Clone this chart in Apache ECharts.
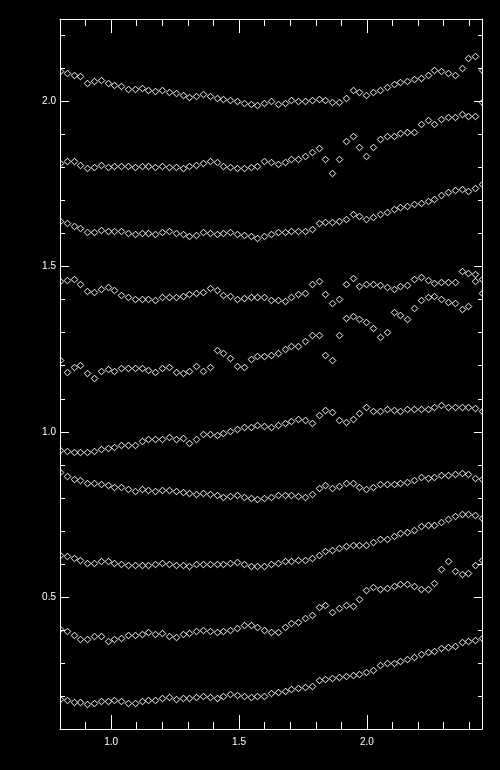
<!DOCTYPE html>
<html>
<head>
<meta charset="utf-8">
<script src="https://cdn.jsdelivr.net/npm/echarts@6/dist/echarts.min.js"></script>
<style>
html,body{margin:0;padding:0;background:#000;}
#chart{width:500px;height:770px;}
</style>
</head>
<body>
<div id="chart"></div>
<script>
// x positions of the samples
const xValues = [0.800,0.827,0.853,0.880,0.906,0.933,0.960,0.986,1.013,1.040,
1.066,1.093,1.119,1.146,1.173,1.199,1.226,1.252,1.279,1.306,
1.332,1.359,1.385,1.412,1.439,1.465,1.492,1.519,1.545,1.572,
1.598,1.625,1.652,1.678,1.705,1.731,1.758,1.785,1.811,1.838,
1.865,1.891,1.918,1.944,1.971,1.998,2.024,2.051,2.077,2.104,
2.131,2.157,2.184,2.210,2.237,2.264,2.290,2.317,2.344,2.370,
2.397,2.423,2.450];

const xTickLabels = [1.0, 1.5, 2.0];
const yTickLabels = [0.5, 1.0, 1.5, 2.0];

const seriesA = [2.093,2.086,2.080,2.076,2.057,2.061,2.064,2.055,2.050,2.047,
2.039,2.037,2.040,2.036,2.033,2.036,2.029,2.025,2.021,2.015,
2.017,2.022,2.018,2.012,2.009,2.004,2.001,1.996,1.992,1.989,
1.997,2.001,1.994,1.996,2.006,2.003,2.002,2.004,2.007,2.005,
1.999,2.000,2.012,2.034,2.030,2.020,2.028,2.034,2.045,2.053,
2.060,2.062,2.067,2.070,2.080,2.097,2.094,2.085,2.080,2.103,
2.132,2.138,2.095];

const seriesB = [1.813,1.819,1.820,1.807,1.798,1.803,1.808,1.802,1.805,1.805,
1.804,1.802,1.805,1.805,1.802,1.805,1.803,1.801,1.800,1.804,
1.807,1.814,1.819,1.817,1.805,1.801,1.800,1.800,1.802,1.804,
1.819,1.817,1.812,1.818,1.826,1.825,1.836,1.848,1.858,1.826,
1.785,1.825,1.881,1.895,1.861,1.835,1.861,1.888,1.897,1.897,
1.906,1.909,1.908,1.931,1.944,1.932,1.946,1.953,1.952,1.961,
1.956,1.956,1.999];

const seriesC = [1.637,1.631,1.622,1.616,1.604,1.604,1.610,1.607,1.607,1.607,
1.601,1.598,1.602,1.601,1.598,1.604,1.607,1.601,1.598,1.592,
1.597,1.604,1.602,1.598,1.601,1.604,1.600,1.596,1.592,1.586,
1.592,1.599,1.606,1.606,1.608,1.608,1.607,1.615,1.633,1.634,
1.635,1.637,1.643,1.660,1.652,1.643,1.650,1.660,1.667,1.674,
1.681,1.683,1.689,1.692,1.699,1.705,1.717,1.726,1.731,1.734,
1.730,1.737,1.750];

const seriesD = [1.458,1.461,1.462,1.448,1.427,1.423,1.432,1.438,1.428,1.414,
1.408,1.401,1.402,1.402,1.398,1.408,1.408,1.409,1.410,1.416,
1.421,1.422,1.435,1.428,1.415,1.412,1.403,1.406,1.407,1.409,
1.409,1.398,1.398,1.395,1.408,1.416,1.421,1.447,1.457,1.417,
1.389,1.402,1.447,1.466,1.442,1.447,1.447,1.444,1.438,1.431,
1.441,1.445,1.463,1.468,1.460,1.450,1.453,1.453,1.453,1.487,
1.481,1.477,1.462];

const seriesE = [1.217,1.181,1.196,1.203,1.178,1.164,1.184,1.191,1.184,1.194,
1.194,1.194,1.194,1.188,1.182,1.192,1.197,1.182,1.178,1.184,
1.199,1.185,1.197,1.247,1.240,1.223,1.200,1.197,1.221,1.231,
1.231,1.234,1.239,1.250,1.261,1.259,1.274,1.293,1.293,1.233,
1.216,1.293,1.345,1.352,1.342,1.332,1.314,1.286,1.301,1.363,
1.355,1.341,1.375,1.399,1.408,1.411,1.403,1.392,1.389,1.371,
1.381,1.458,1.420];

const seriesF = [0.946,0.943,0.939,0.939,0.939,0.943,0.949,0.951,0.955,0.961,
0.961,0.959,0.971,0.977,0.977,0.977,0.983,0.979,0.982,0.966,
0.977,0.994,0.992,0.991,0.997,1.002,1.008,1.013,1.014,1.021,
1.018,1.016,1.021,1.026,1.032,1.039,1.035,1.028,1.051,1.067,
1.060,1.036,1.029,1.038,1.057,1.075,1.064,1.063,1.070,1.067,
1.063,1.070,1.068,1.070,1.070,1.076,1.082,1.076,1.075,1.075,
1.074,1.073,1.063];

const seriesG = [0.878,0.866,0.856,0.855,0.845,0.845,0.841,0.838,0.833,0.833,
0.828,0.821,0.826,0.825,0.821,0.825,0.825,0.820,0.818,0.815,
0.811,0.815,0.813,0.808,0.803,0.805,0.808,0.803,0.800,0.797,
0.800,0.804,0.808,0.808,0.810,0.806,0.804,0.811,0.831,0.839,
0.830,0.835,0.844,0.844,0.833,0.827,0.834,0.841,0.842,0.842,
0.846,0.848,0.853,0.864,0.861,0.863,0.870,0.869,0.871,0.876,
0.873,0.860,0.858];

const seriesH = [0.626,0.623,0.618,0.611,0.603,0.603,0.608,0.608,0.603,0.599,
0.596,0.596,0.596,0.596,0.599,0.603,0.599,0.596,0.596,0.593,
0.599,0.601,0.599,0.599,0.599,0.603,0.606,0.599,0.594,0.593,
0.594,0.600,0.603,0.608,0.610,0.611,0.612,0.618,0.628,0.640,
0.643,0.647,0.653,0.658,0.658,0.658,0.667,0.676,0.676,0.685,
0.694,0.697,0.704,0.714,0.717,0.719,0.727,0.737,0.745,0.752,
0.752,0.747,0.739];

const seriesI = [0.402,0.397,0.384,0.372,0.374,0.382,0.381,0.367,0.372,0.376,
0.386,0.384,0.389,0.394,0.389,0.391,0.382,0.379,0.389,0.391,
0.396,0.399,0.396,0.394,0.397,0.399,0.406,0.414,0.416,0.408,
0.399,0.394,0.394,0.409,0.422,0.425,0.435,0.445,0.470,0.474,
0.454,0.467,0.476,0.472,0.493,0.520,0.530,0.525,0.527,0.533,
0.540,0.538,0.533,0.523,0.524,0.542,0.584,0.609,0.579,0.570,
0.573,0.596,0.612];

const seriesJ = [0.190,0.188,0.183,0.183,0.175,0.180,0.186,0.186,0.188,0.185,
0.180,0.180,0.185,0.188,0.188,0.193,0.196,0.191,0.193,0.193,
0.198,0.201,0.198,0.195,0.201,0.205,0.203,0.200,0.198,0.200,
0.200,0.208,0.213,0.216,0.221,0.223,0.226,0.231,0.248,0.251,
0.255,0.256,0.261,0.263,0.268,0.273,0.280,0.293,0.301,0.301,
0.307,0.312,0.319,0.327,0.334,0.336,0.344,0.349,0.351,0.362,
0.367,0.371,0.376];

const allSeries = [seriesA, seriesB, seriesC, seriesD, seriesE, seriesF, seriesG, seriesH, seriesI, seriesJ];

const chart = echarts.init(document.getElementById('chart'), null, {renderer: 'canvas'});

const FONT = 'Liberation Sans';
const WHITE = '#ffffff';
const HALF = 3.3; // half size of the diamond marker in px

function isMajor(v, list) {
  return list.some(t => Math.abs(t - v) < 1e-6);
}

function xAxisDef(pos, len, custom, showLine, showLabel) {
  const a = {
    type: 'value', position: pos, min: 0.8, max: 2.45, interval: 0.1,
    axisLine: {show: showLine, onZero: false, lineStyle: {color: WHITE, width: 1}},
    axisTick: {show: true, inside: true, length: len, lineStyle: {color: WHITE, width: 1}},
    axisLabel: {show: showLabel, color: WHITE, fontFamily: FONT, fontSize: 10, margin: 8,
      formatter: v => isMajor(v, xTickLabels) ? v.toFixed(1) : ''},
    splitLine: {show: false}
  };
  if (custom) a.axisTick.customValues = xTickLabels;
  return a;
}
function yAxisDef(pos, len, custom, showLine, showLabel) {
  const a = {
    type: 'value', position: pos, min: 0.1, max: 2.25, interval: 0.1,
    axisLine: {show: showLine, onZero: false, lineStyle: {color: WHITE, width: 1}},
    axisTick: {show: true, inside: true, length: len, lineStyle: {color: WHITE, width: 1}},
    axisLabel: {show: showLabel, color: WHITE, fontFamily: FONT, fontSize: 10, margin: 4,
      formatter: v => isMajor(v, yTickLabels) ? v.toFixed(1) : ''},
    splitLine: {show: false}
  };
  if (custom) a.axisTick.customValues = yTickLabels;
  return a;
}

function renderDiamond(params, api) {
  const p = api.coord([api.value(0), api.value(1)]);
  const cx = Math.round(p[0]) + 0.5, cy = Math.round(p[1]) + 0.5;
  return {
    type: 'polygon',
    shape: {points: [[cx, cy - HALF], [cx + HALF, cy], [cx, cy + HALF], [cx - HALF, cy]]},
    style: {fill: 'rgba(0,0,0,0)', stroke: WHITE, lineWidth: 1}
  };
}

const option = {
  backgroundColor: '#000000',
  animation: false,
  grid: {left: 60, right: 18, top: 19, bottom: 41, containLabel: false},
  xAxis: [
    xAxisDef('bottom', 7, false, true, true),
    xAxisDef('bottom', 14, true, false, false),
    xAxisDef('top', 7, false, true, false),
    xAxisDef('top', 14, true, false, false)
  ],
  yAxis: [
    yAxisDef('left', 5, false, true, true),
    yAxisDef('left', 9, true, false, false),
    yAxisDef('right', 4, false, true, false),
    yAxisDef('right', 8, true, false, false)
  ],
  series: allSeries.map(vals => ({
    type: 'custom',
    xAxisIndex: 0, yAxisIndex: 0,
    clip: true,
    renderItem: renderDiamond,
    encode: {x: 0, y: 1},
    emphasis: {disabled: true},
    data: xValues.map((x, i) => [x, vals[i]])
  }))
};
chart.setOption(option);
</script>
</body>
</html>
